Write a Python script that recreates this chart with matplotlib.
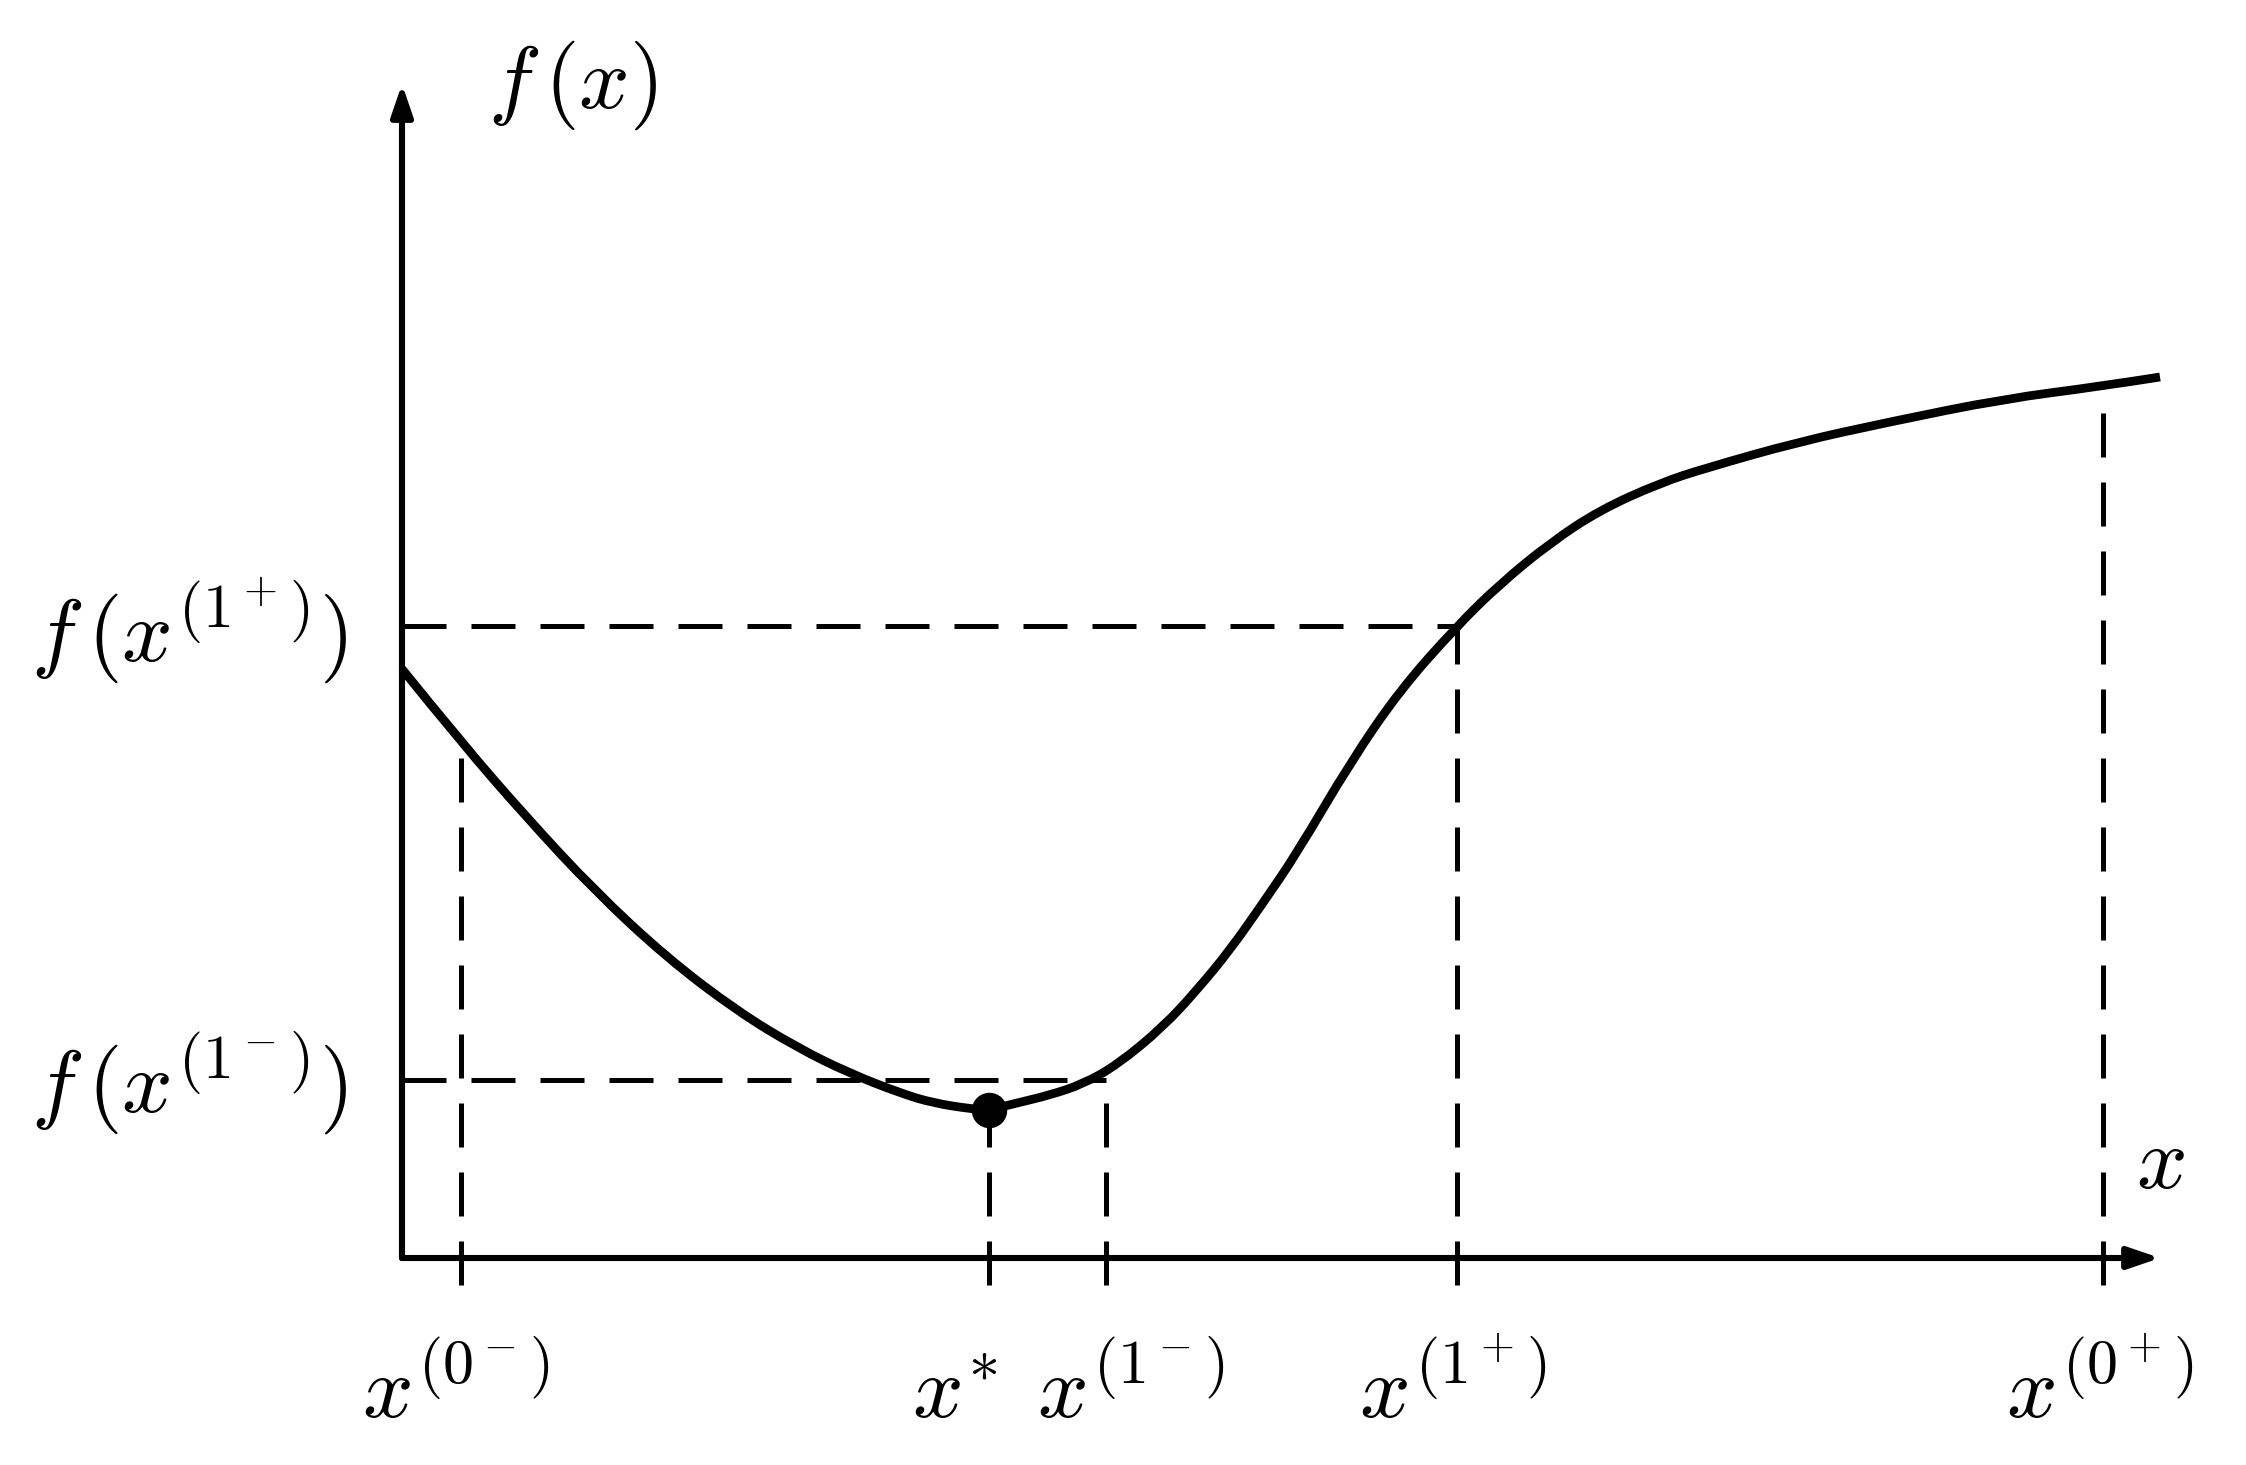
import matplotlib
matplotlib.use("Agg")
import matplotlib.pyplot as plt
from matplotlib.path import Path
from matplotlib.patches import PathPatch

plt.rcParams['mathtext.fontset'] = 'cm'

# ---- data (arbitrary units, origin at the axes corner) ----
curve_x = [0.00, 0.59, 1.26, 1.92, 2.64, 3.35, 3.96, 4.47, 4.98, 5.31, 5.70, 5.87,
           6.15, 6.48, 6.81, 7.15, 7.61, 7.95, 8.28, 8.61, 8.95, 9.48, 9.98, 10.55,
           10.98, 11.48, 11.98, 12.58, 13.04, 13.96, 14.87, 16.01, 17.01, 17.58]
curve_y = [5.89, 5.16, 4.39, 3.68, 3.01, 2.47, 2.10, 1.85, 1.65, 1.55, 1.49, 1.48,
           1.55, 1.63, 1.74, 1.93, 2.31, 2.68, 3.08, 3.55, 4.05, 4.95, 5.68, 6.32,
           6.74, 7.15, 7.48, 7.75, 7.90, 8.16, 8.36, 8.59, 8.72, 8.81]

# marked abscissae and the curve values where the vertical guides end
mark_x = [0.59, 5.87, 7.04, 10.55, 17.01]
mark_top = [5.16, 1.48, 1.78, 6.32, 8.52]
x_labels = [r'$x^{(0^-)}$', r'$x^{{*}}$', r'$x^{(1^-)}$', r'$x^{(1^+)}$', r'$x^{(0^+)}$']
x_label_pos = [0.54, 5.53, 7.29, 10.51, 16.98]

# horizontal guide levels
level_y = [6.32, 1.78]
level_end = [10.55, 7.04]
level_labels = [r'$f\,(x^{(1^+)})$', r'$f\,(x^{(1^-)})$']

min_x, min_y = 5.87, 1.48

x_axis_end = 17.58
y_axis_end = 11.74

# ---- figure ----
fig = plt.figure(figsize=(22.46, 14.65), dpi=100)
ax = fig.add_axes([0, 0, 1, 1])
ax.set_xlim(-4.02, 18.44)
ax.set_ylim(-2.07, 12.58)
ax.axis('off')

fs = 64
dash_lw = 3.6
dash_style = (0, (8.8, 5.0))
guide_bottom = -0.27

# axes with arrows
arrow_kw = dict(arrowstyle='-|>,head_length=19,head_width=6.5', color='black',
                lw=4.4, shrinkA=0, shrinkB=0, mutation_scale=1)
ax.annotate('', xy=(x_axis_end, 0), xytext=(0, 0), arrowprops=arrow_kw)
ax.annotate('', xy=(0, y_axis_end), xytext=(0, 0), arrowprops=arrow_kw)

# horizontal dashed guides (start at y-axis)
for yv, xe in zip(level_y, level_end):
    ax.plot([0, xe], [yv, yv], color='black', lw=dash_lw, linestyle=dash_style,
            dash_capstyle='butt')

# vertical dashed guides (start below the x-axis)
for xv, yt in zip(mark_x, mark_top):
    ax.plot([xv, xv], [guide_bottom, yt], color='black', lw=dash_lw,
            linestyle=dash_style, dash_capstyle='butt')

# the curve, drawn as a smooth quadratic-Bezier path through the read points
pts = list(zip(curve_x, curve_y))
verts = [pts[0]]
codes = [Path.MOVETO]
n = len(pts)
for i in range(1, n - 1):
    ctrl = pts[i]
    if i < n - 2:
        end = ((pts[i][0] + pts[i + 1][0]) / 2, (pts[i][1] + pts[i + 1][1]) / 2)
    else:
        end = pts[n - 1]
    verts += [ctrl, end]
    codes += [Path.CURVE3, Path.CURVE3]
curve = PathPatch(Path(verts, codes), facecolor='none', edgecolor='black',
                  lw=6.3, capstyle='butt', joinstyle='round', zorder=3)
ax.add_patch(curve)

# the minimum
ax.plot([min_x], [min_y], 'o', color='black', markersize=24.5, zorder=4)

# labels
ax.text(1.71, 11.50, r'$f\,(x)$', fontsize=fs, ha='center', va='baseline')
ax.text(17.58, 0.70, r'$x$', fontsize=fs, ha='center', va='baseline')
for yv, lab, base in zip(level_y, level_labels, [5.98, 1.45]):
    ax.text(-2.13, base, lab, fontsize=fs, ha='center', va='baseline')
for xp, lab in zip(x_label_pos, x_labels):
    ax.text(xp, -1.60, lab, fontsize=fs, ha='center', va='baseline')

fig.savefig('out.png', dpi=100, facecolor='white')
